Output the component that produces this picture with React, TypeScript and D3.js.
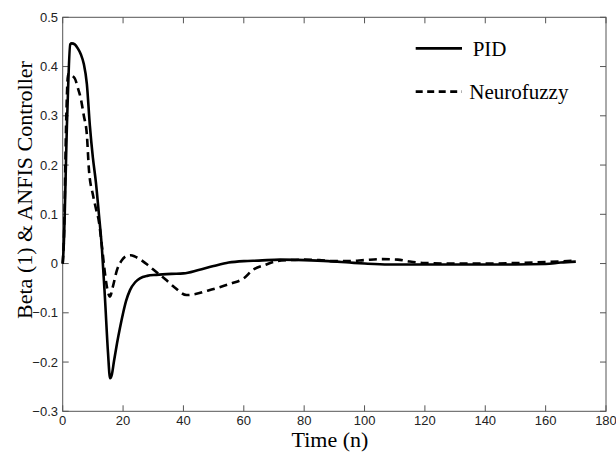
import React from "react";
import * as d3 from "d3";

const pidTime = [0, 0.3, 1.5, 2.5, 3, 4, 5, 6, 7, 8, 9, 10, 11, 12, 13, 14, 15, 15.7, 16.3, 17, 18, 19, 20, 21, 22.3, 24, 25.6, 28, 31, 36, 40, 45, 50, 55, 60, 65, 72, 80, 88, 95, 100, 108, 120, 135, 150, 160, 165, 170];
const pidValues = [0, 0.03, 0.3, 0.445, 0.447, 0.445, 0.437, 0.425, 0.405, 0.365, 0.28, 0.215, 0.165, 0.1, 0.03, -0.07, -0.18, -0.233, -0.225, -0.198, -0.162, -0.13, -0.101, -0.076, -0.054, -0.038, -0.03, -0.025, -0.023, -0.021, -0.02, -0.013, -0.005, 0.002, 0.005, 0.006, 0.008, 0.007, 0.005, 0.002, 0.0, -0.002, -0.002, -0.002, -0.002, -0.001, 0.002, 0.004];

const nfTime = [0, 0.4, 1.2, 1.8, 2.5, 4, 5, 6, 7, 8, 8.7, 10, 11, 12, 13, 14, 15, 15.7, 16.5, 18, 19.5, 21, 22.5, 24, 26, 28, 30, 32, 34, 37, 41, 44, 48, 52, 56, 60, 63, 67, 71, 75, 80, 85, 90, 95, 100, 106, 111, 115, 120, 130, 140, 150, 160, 170];
const nfValues = [0, 0.05, 0.3, 0.385, 0.383, 0.376, 0.357, 0.335, 0.3, 0.262, 0.19, 0.14, 0.112, 0.085, 0.035, -0.02, -0.058, -0.067, -0.05, -0.013, 0.006, 0.015, 0.017, 0.014, 0.007, -0.002, -0.012, -0.022, -0.032, -0.048, -0.064, -0.062, -0.055, -0.048, -0.04, -0.03, -0.013, -0.003, 0.005, 0.007, 0.008, 0.007, 0.005, 0.005, 0.007, 0.009, 0.008, 0.004, 0.001, 0.0, 0.0, 0.001, 0.003, 0.006];

const xTicks = [0, 20, 40, 60, 80, 100, 120, 140, 160, 180];
const yTicks = [-0.3, -0.2, -0.1, 0, 0.1, 0.2, 0.3, 0.4, 0.5];
const seriesNames = ["PID", "Neurofuzzy"];

const W = 616, H = 452;
const left = 62.7, right = 606, top = 17.3, bottom = 411.3;

export default function App() {
  const x = d3.scaleLinear().domain([0, 180]).range([left, right]);
  const y = d3.scaleLinear().domain([-0.3, 0.5]).range([bottom, top]);
  const line = d3.line<[number, number]>().x(d => x(d[0])).y(d => y(d[1])).curve(d3.curveMonotoneX);
  const pid = line(pidTime.map((t, i) => [t, pidValues[i]] as [number, number])) || "";
  const nf = line(nfTime.map((t, i) => [t, nfValues[i]] as [number, number])) || "";
  const axisColor = "#555";
  const tl = 6;
  const tickFont = "'Liberation Sans', Arial, sans-serif";
  const serif = "'Liberation Serif', 'Times New Roman', serif";
  return (
    <svg width={W} height={H} style={{ position: "absolute", left: 0, top: 0, background: "#fff" }}>
      <rect x={0} y={0} width={W} height={H} fill="#fff" />
      {xTicks.map(t => (
        <g key={"x" + t}>
          <line x1={x(t)} x2={x(t)} y1={bottom} y2={bottom - tl} stroke={axisColor} strokeWidth={1} />
          <line x1={x(t)} x2={x(t)} y1={top} y2={top + tl} stroke={axisColor} strokeWidth={1} />
          <text x={x(t)} y={425} textAnchor="middle" fontFamily={tickFont} fontSize={13} fill="#222">{t}</text>
        </g>
      ))}
      {yTicks.map(t => (
        <g key={"y" + t}>
          <line x1={left} x2={left + tl} y1={y(t)} y2={y(t)} stroke={axisColor} strokeWidth={1} />
          <line x1={right} x2={right - tl} y1={y(t)} y2={y(t)} stroke={axisColor} strokeWidth={1} />
          <text x={58} y={y(t)} dy="0.35em" textAnchor="end" fontFamily={tickFont} fontSize={13} fill="#222">{d3.format("")(Math.round(t * 10) / 10)}</text>
        </g>
      ))}
      <rect x={left} y={top} width={right - left} height={bottom - top} fill="none" stroke={axisColor} strokeWidth={1} />
      <path d={pid} fill="none" stroke="#000" strokeWidth={2.6} strokeLinejoin="round" />
      <path d={nf} fill="none" stroke="#000" strokeWidth={2.6} strokeDasharray="8,5" />
      <line x1={415.7} x2={462} y1={48.3} y2={48.3} stroke="#000" strokeWidth={2.8} />
      <text x={472.7} y={55.5} fontFamily={serif} fontSize={21} fill="#000">{seriesNames[0]}</text>
      <line x1={415.7} x2={462} y1={91.7} y2={91.7} stroke="#000" strokeWidth={2.8} strokeDasharray="7,4.5" />
      <text x={469.3} y={98.5} fontFamily={serif} fontSize={21} fill="#000">{seriesNames[1]}</text>
      <text x={330} y={447} textAnchor="middle" fontFamily={serif} fontSize={22} fill="#000">Time (n)</text>
      <text transform={`translate(32,190) rotate(-90)`} textAnchor="middle" fontFamily={serif} fontSize={22} fill="#000">Beta (1) &amp; ANFIS Controller</text>
    </svg>
  );
}
